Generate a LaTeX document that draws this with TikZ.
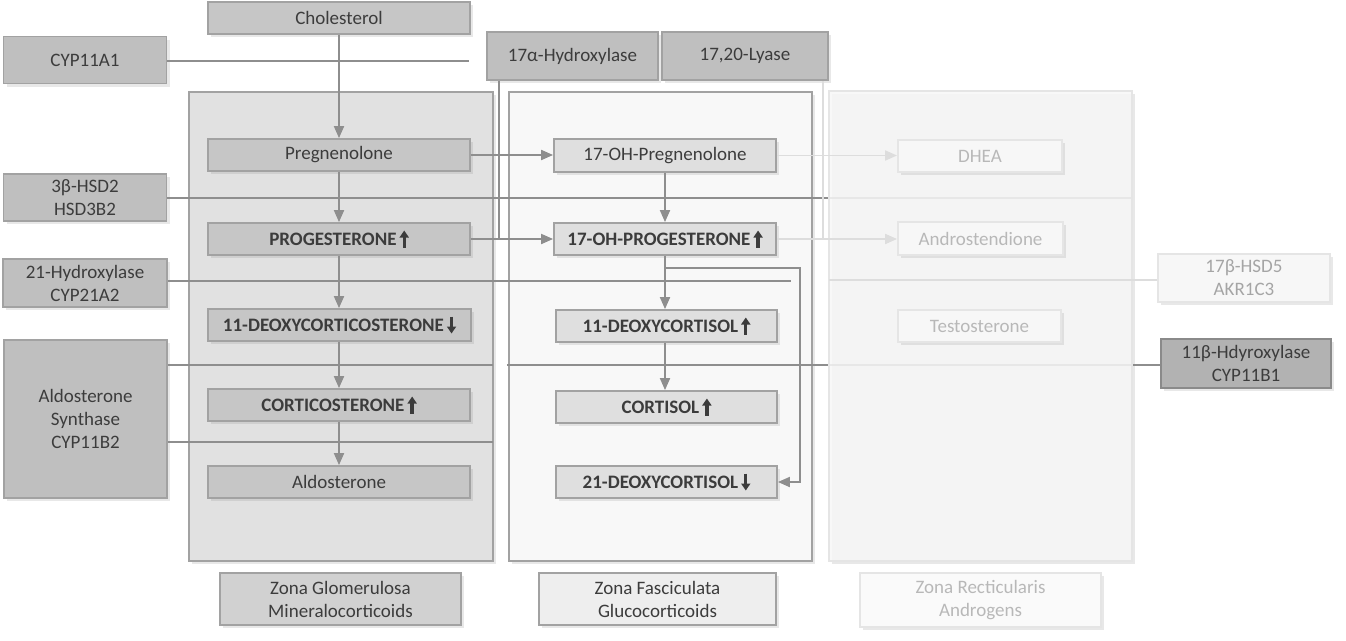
\documentclass[tikz,border=0pt]{standalone}
\usepackage{fontspec}
\setmainfont{Carlito}
\usetikzlibrary{arrows.meta,shadows}

\definecolor{linegray}{HTML}{8E8E8E}
\definecolor{txtgray}{HTML}{3C3C3C}
\definecolor{enzfill}{HTML}{BFBFBF}
\definecolor{enzdraw}{HTML}{A2A2A2}
\definecolor{glofill}{HTML}{E1E1E1}
\definecolor{globox}{HTML}{C6C6C6}
\definecolor{fasfill}{HTML}{F8F8F8}
\definecolor{fasbox}{HTML}{DFDFDF}
\definecolor{retfill}{HTML}{F7F7F7}
\definecolor{retdraw}{HTML}{E5E5E5}
\definecolor{rettxt}{HTML}{B8B8B8}
\definecolor{retline}{HTML}{DDDDDD}

\begin{document}
\begin{tikzpicture}[x=1pt,y=-1pt,
	every node/.style={font=\fontsize{19}{23}\selectfont, text=txtgray, align=center, inner sep=0pt},
	softshadow/.style={drop shadow={shadow xshift=3pt,shadow yshift=-3pt,opacity=0.18}},
	box/.style 2 args={rectangle, minimum width=#1, minimum height=#2, line width=1.8pt, softshadow},
	enz/.style={draw=enzdraw, fill=enzfill},
	glo/.style={draw=enzdraw, fill=globox},
	fas/.style={draw=enzdraw, fill=fasbox},
	ret/.style={draw=retdraw, fill=retfill, text=rettxt},
	link/.style={draw=linegray, line width=1.8pt},
	arr/.style={link, -{Triangle[length=12pt,width=10pt]}},
	faint/.style={draw=retline, line width=1.8pt},
	faintarr/.style={faint, -{Triangle[length=12pt,width=10pt]}}
	]
	\newcommand\levelup{\tikz[baseline=0pt]\draw[draw=txtgray, line width=3.4pt, -{Triangle[length=7pt,width=9pt]}] (0pt,-2pt) -- (0pt,15pt);}
	\newcommand\leveldown{\tikz[baseline=0pt]\draw[draw=txtgray, line width=3.4pt, -{Triangle[length=7pt,width=9pt]}] (0pt,15pt) -- (0pt,-2pt);}

	\useasboundingbox (0,0) rectangle (1346,640);

	%% zones
	\node[box={304pt}{469pt}, draw=enzdraw, fill=glofill] (zg) at (341,326.5) {};
	\node[box={303pt}{469pt}, draw=enzdraw, fill=fasfill] (zf) at (660.5,326.5) {};

	%% enzymes
	\node[box={262pt}{32pt}, glo] (chol) at (339,18) {Cholesterol};
	\node[box={163pt}{47pt}, enz] (cyp11a1) at (85,60) {CYP11A1};
	\node[box={171pt}{48pt}, enz] (hyd17) at (572.5,56) {17α-Hydroxylase};
	\node[box={166pt}{48pt}, enz] (lyase) at (745,56) {17,20-Lyase};
	\node[box={163pt}{47pt}, enz] (hsd3) at (85,197.5) {3β-HSD2\\HSD3B2};
	\node[box={164pt}{48pt}, enz] (cyp21) at (85,283) {21-Hydroxylase\\CYP21A2};
	\node[box={163pt}{158pt}, enz] (cyp11b2) at (85.5,419) {Aldosterone\\Synthase\\CYP11B2};
	\node[box={170pt}{49pt}, enz, fill=enzfill!93!black, draw=enzdraw!85!black] (cyp11b1) at (1246,363.5) {11β-Hdyroxylase\\CYP11B1};

	%% zona glomerulosa
	\node[box={262pt}{32pt}, glo] (preg) at (339,155) {Pregnenolone};
	\node[box={262pt}{32pt}, glo] (prog) at (339,239) {\textbf{PROGESTERONE}\,\levelup};
	\node[box={263pt}{32pt}, glo] (doc) at (339.5,325) {\textbf{11-DEOXYCORTICOSTERONE}\,\leveldown};
	\node[box={262pt}{32pt}, glo] (cort) at (339,405) {\textbf{CORTICOSTERONE}\,\levelup};
	\node[box={262pt}{32pt}, glo] (aldo) at (339,482) {Aldosterone};

	%% zona fasciculata
	\node[box={222pt}{33pt}, fas] (ohpreg) at (665,155.5) {17-OH-Pregnenolone};
	\node[box={222pt}{32pt}, fas] (ohprog) at (665,239) {\textbf{17-OH-PROGESTERONE}\,\levelup};
	\node[box={221pt}{32pt}, fas] (docl) at (666.5,326) {\textbf{11-DEOXYCORTISOL}\,\levelup};
	\node[box={221pt}{32pt}, fas] (cortisol) at (666.5,407) {\textbf{CORTISOL}\,\levelup};
	\node[box={221pt}{32pt}, fas] (dcort21) at (666.5,482) {\textbf{21-DEOXYCORTISOL}\,\leveldown};

	%% free ends of the enzyme lines
	\coordinate (e11a) at (469,61);
	\coordinate (e3b) at (1132,198);
	\coordinate (e21) at (791,281);
	\coordinate (eas1) at (493,365);
	\coordinate (eas2) at (493,442);
	\coordinate (e11b) at (507,365);
	\coordinate (e17b) at (829,280);

	\draw[link] (cyp11a1.east |- e11a) -- (e11a);
	\draw[link] (hsd3.east |- e3b) -- (e3b);
	\draw[link] (cyp21.east |- e21) -- (e21);
	\draw[link] (cyp11b2.east |- eas1) -- (eas1);
	\draw[link] (cyp11b2.east |- eas2) -- (eas2);
	\draw[link] (cyp11b1.west |- e11b) -- (e11b);
	\draw[link] ([xshift=13pt]hyd17.south west) -- ([xshift=13pt]hyd17.south west |- prog.east);

	%% zona reticularis (faded)
	\node[box={303pt}{470pt}, draw=retdraw, fill=retfill, fill opacity=0.86] (zr) at (980.5,326) {};
	\node[box={164pt}{32pt}, ret] (dhea) at (980,156) {DHEA};
	\node[box={165pt}{33pt}, ret] (andro) at (980.5,238.5) {Androstendione};
	\node[box={163pt}{32pt}, ret] (testo) at (979.5,326) {Testosterone};
	\node[box={172pt}{48pt}, ret, fill=white!97!black, text=rettxt!90!black] (hsd17) at (1244,278) {17β-HSD5\\AKR1C3};
	\draw[faint] (hsd17.west |- e17b) -- (e17b);
	\draw[faint] ([xshift=-6pt]lyase.south east) -- ([xshift=-6pt]lyase.south east |- andro.west);
	\draw[faintarr] (ohpreg.east) -- (ohpreg.east -| dhea.west);
	\draw[faintarr] (ohprog.east) -- (ohprog.east -| andro.west);

	%% pathway arrows
	\draw[arr] (chol) -- (preg);
	\draw[arr] (preg) -- (prog);
	\draw[arr] (prog.south) -- (prog.south |- doc.north);
	\draw[arr] (doc.south -| prog.south) -- (cort.north -| prog.south);
	\draw[arr] (cort) -- (aldo);
	\draw[arr] (preg.east) -- (preg.east -| ohpreg.west);
	\draw[arr] (prog) -- (ohprog);
	\draw[arr] (ohpreg) -- (ohprog);
	\draw[arr] (ohprog.south) -- (ohprog.south |- docl.north);
	\draw[arr] (docl.south -| ohprog.south) -- (cortisol.north -| ohprog.south);
	\draw[arr] (ohprog.south) ++(0,12) -- ++(135,0) |- (dcort21.east);

	%% zone labels
	\node[box={241pt}{52pt}, draw=enzdraw, fill=globox!80!white] (lzg) at (340.5,599) {Zona Glomerulosa\\Mineralocorticoids};
	\node[box={237pt}{52pt}, draw=enzdraw, fill=fasfill!96!black] (lzf) at (657.5,599) {Zona Fasciculata\\Glucocorticoids};
	\node[box={241pt}{54pt}, ret, fill=white!98!black] (lzr) at (980.5,600) {Zona Recticularis\\Androgens};
\end{tikzpicture}
\end{document}
